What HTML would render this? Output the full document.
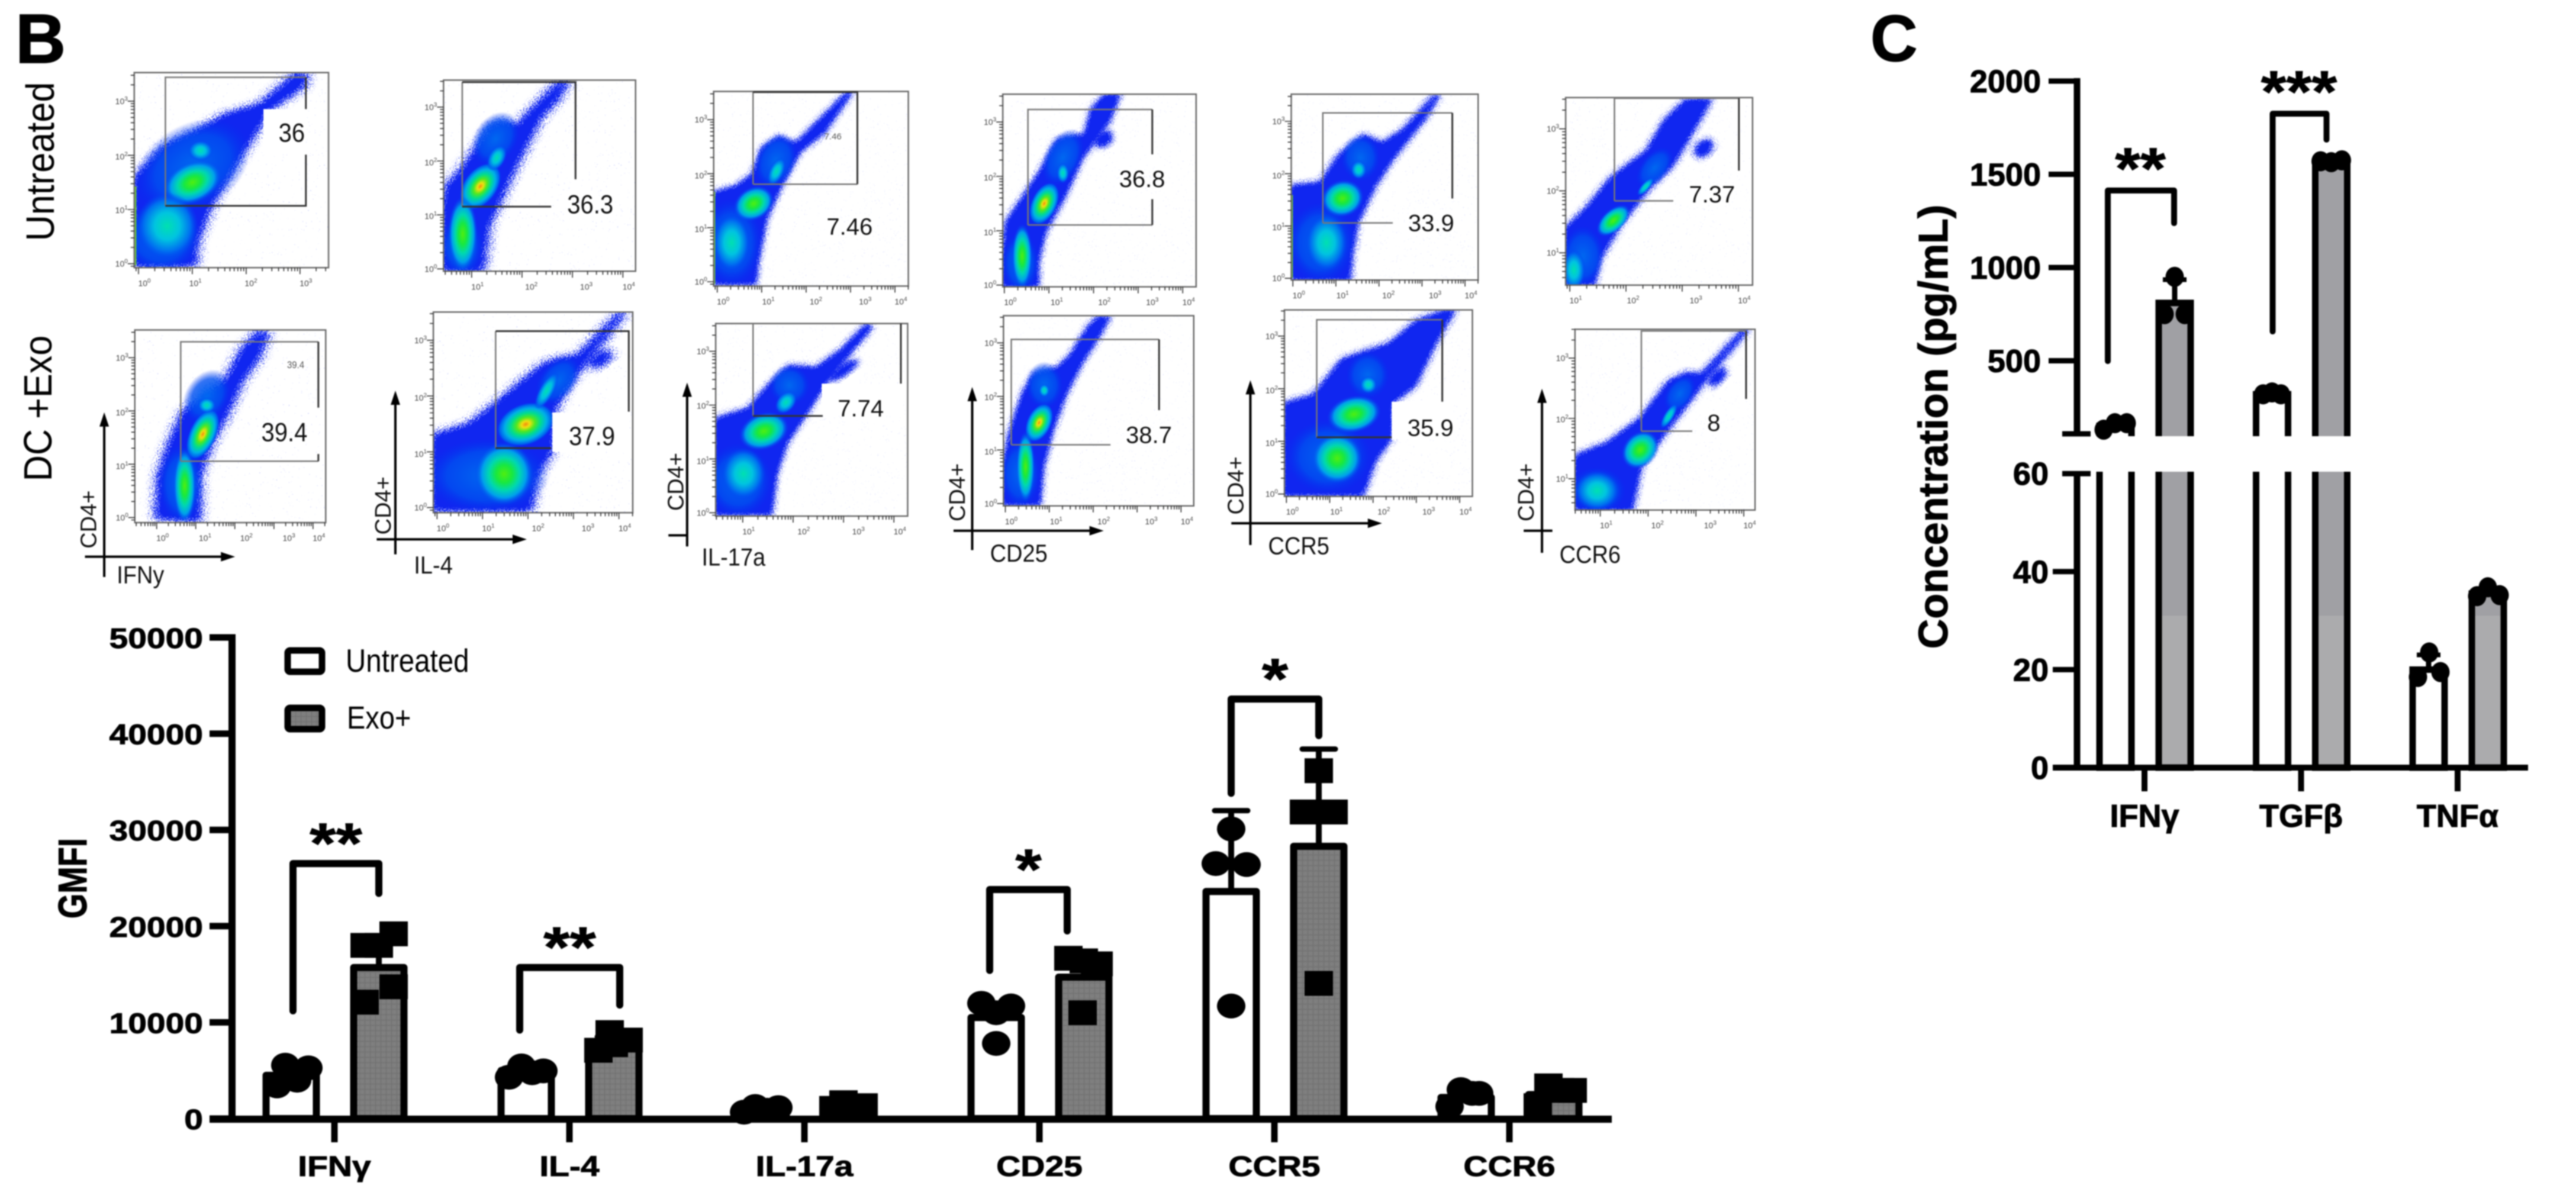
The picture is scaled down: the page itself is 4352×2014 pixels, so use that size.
<!DOCTYPE html>
<html lang="en">
<head>
<meta charset="utf-8">
<title>Flow cytometry and cytokine panels</title>
<style>
html,body{margin:0;padding:0;background:#fff;}
svg{display:block;filter:blur(1.1px);}
text{font-family:"Liberation Sans",sans-serif;}
</style>
</head>
<body>
<svg id="fig" xmlns="http://www.w3.org/2000/svg" width="4352" height="2014" viewBox="0 0 4352 2014">
  <defs>
    <radialGradient id="g-hot"><stop offset="0" stop-color="#f08a10"/><stop offset=".14" stop-color="#f0e010"/><stop offset=".32" stop-color="#50e820"/><stop offset=".52" stop-color="#00dc90"/><stop offset=".72" stop-color="#00b0e8"/><stop offset=".9" stop-color="#0060f0"/><stop offset="1" stop-color="#0030f0" stop-opacity="0"/></radialGradient>
    <radialGradient id="g-grn"><stop offset="0" stop-color="#50ee10"/><stop offset=".28" stop-color="#18e840"/><stop offset=".52" stop-color="#00d8b0"/><stop offset=".75" stop-color="#00a0ec"/><stop offset="1" stop-color="#0040f0" stop-opacity="0"/></radialGradient>
    <radialGradient id="g-cyn"><stop offset="0" stop-color="#00e0b0"/><stop offset=".4" stop-color="#00c4e0"/><stop offset=".75" stop-color="#0070f0"/><stop offset="1" stop-color="#0040f0" stop-opacity="0"/></radialGradient>
    <radialGradient id="g-blu"><stop offset="0" stop-color="#0068f0"/><stop offset=".65" stop-color="#0050f0" stop-opacity=".8"/><stop offset="1" stop-color="#0030f0" stop-opacity="0"/></radialGradient>
    <pattern id="bar-weave" patternUnits="userSpaceOnUse" width="9" height="9"><rect width="9" height="9" fill="#7f7f7f"/><path d="M0 4.5H9M4.5 0V9" stroke="#747474" stroke-width="2"/></pattern>
    <filter id="grain" x="-25%" y="-25%" width="150%" height="150%" color-interpolation-filters="sRGB">
      <feGaussianBlur in="SourceAlpha" stdDeviation="9" result="b"/>
      <feTurbulence type="fractalNoise" baseFrequency=".5" numOctaves="2" seed="4" result="t"/>
      <feColorMatrix in="t" type="matrix" values="0 0 0 0 0  0 0 0 0 0  0 0 0 0 0  0 0 0 3 -1" result="n"/>
      <feComposite in="b" in2="n" operator="arithmetic" k1="0" k2="1.2" k3="1" k4="-1" result="a"/>
      <feComponentTransfer in="a" result="th"><feFuncA type="linear" slope="10"/></feComponentTransfer>
      <feFlood flood-color="#1026f0"/>
      <feComposite in2="th" operator="in"/>
    </filter>
    <filter id="sparse" x="0" y="0" width="100%" height="100%">
      <feTurbulence type="fractalNoise" baseFrequency=".5" numOctaves="1" seed="21" result="n"/>
      <feColorMatrix in="n" type="matrix" values="0 0 0 0 .2  0 0 0 0 .25  0 0 0 0 .95  0 0 0 60 -45"/>
    </filter>
  </defs>
  <rect width="4352" height="2014" fill="#fff"/>
  <text x="26" y="106" font-size="118" font-weight="700" stroke="#000" stroke-width="1.5">B</text>
  <text x="3160" y="103" font-size="110" font-weight="700" stroke="#000" stroke-width="1.5">C</text>
  <text text-anchor="middle" font-size="60" transform="translate(91,273) rotate(-90) scale(1.02,1.12)">Untreated</text>
  <text text-anchor="middle" font-size="60" transform="translate(87,690) rotate(-90) scale(1.02,1.12)">DC +Exo</text>
  <g id="flow"></g>
  <g id="chartB"></g>
  <g id="chartC"></g>
</svg>
<script>
/* ---------- GMFI chart data ---------- */
const gmfiCategories = ['IFNγ','IL-4','IL-17a','CD25','CCR5','CCR6'];
const gmfiTicks = [0,10000,20000,30000,40000,50000];
const gmfiUntreatedMeans = [4500,5000,1000,10500,23600,2200];
const gmfiExoMeans = [15700,7500,1300,14700,28300,2500];
const gmfiUntreatedErrTop = [5500,5400,1300,11900,32000,2900];
const gmfiExoErrTop = [19000,8500,1700,16800,38400,3300];
const gmfiUntreatedPoints = [
  [3400,5550,3990,5270],[4300,5470,4770,4960],[670,1260,870,1140],
  [11980,11710,11000,7810],[30100,26500,26400,11700],[1260,3010,2620,2620]];
const gmfiExoPoints = [
  [18000,18000,19200,13700,12100],[7100,8940,8160,7680],[1060,1650,1340,1200],
  [16660,16390,16080,11000],[36150,31860,31860,14050],[1340,3400,2930,2930]];
const gmfiSigLabels = ['**','**','*','*'];
const gmfiSigCategory = [0,1,3,4];
const gmfiSigTop = [26500,15700,23800,43600];
const gmfiSigLeftEnd = [11200,9200,15400,33800];
const gmfiSigRightEnd = [23400,11800,19500,39800];
const legendLabels = ['Untreated','Exo+'];

/* ---------- Concentration chart data ---------- */
const cytoCategories = ['IFNγ','TGFβ','TNFα'];
const cytoUpperTicks = [500,1000,1500,2000];
const cytoLowerTicks = [0,20,40,60];
const cytoUntreatedMeans = [150,320,20];
const cytoExoMeans = [810,1570,35.5];
const cytoUntreatedErrTop = [165,335,23];
const cytoExoErrTop = [935,1580,36.5];
const cytoUntreatedPoints = [[130,165,165],[320,330,320],[18.5,19.5,23.5]];
const cytoExoPoints = [[750,750,950],[1570,1565,1575],[35,36.8,35.2]];
const cytoSigLabels = ['**','***'];
const cytoSigCategory = [0,1];
const cytoSigTop = [1413,1825];
const cytoSigLeftEnd = [498,657];
const cytoSigRightEnd = [1238,1686];

/* ---------- swarm layout, separate from values (px from bar centre) ---------- */
const swarmB0 = [[-24,-10,10,29],[-29,-8,10,29],[-29,-10,10,29],[-25,25,0,0],[0,-26,26,0],[-28,-9,22,10]];
const swarmB1 = [[-24,0,25,25,-24],[-26,-7,25,0],[-26,-9,25,5],[-26,0,25,-2],[0,-25,25,0],[-27,-9,32,11]];
const swarmC0 = [[-20,-1,19],[-15,0,15],[-18,20,1]];
const swarmC1 = [[-17,17,0],[-18,0,18],[-18,0,20]];

const NS = 'http://www.w3.org/2000/svg';
function make(tag, attrs, name, parent){
  const el = document.createElementNS(NS, tag);
  for (const k in attrs) el.setAttribute(k, attrs[k]);
  
  
  parent.appendChild(el);
  return el;
}
function label(parent, name, x, y, str, size, opt){
  opt = opt || {};
  const attrs = {'font-size': size, 'text-anchor': opt.anchor || 'middle', 'font-weight': opt.weight || 400, fill: opt.fill || '#000'};
  if (opt.weight === 700) { attrs.stroke = '#000'; attrs['stroke-width'] = 1.1; }
  attrs.transform = 'translate(' + x + ',' + y + ')' + (opt.rot ? ' rotate(' + opt.rot + ')' : '') + (opt.sx || opt.sy ? ' scale(' + (opt.sx || 1) + ',' + (opt.sy || 1) + ')' : '');
  const t = make('text', attrs, name, parent);
  t.textContent = str;
  return t;
}
function slug(s){ return s.toLowerCase().replace('γ','g').replace('β','b').replace('α','a').replace(/[^a-z0-9]+/g,'-'); }
function line(parent, name, x1, y1, x2, y2, w, cap){
  return make('line', {x1:x1, y1:y1, x2:x2, y2:y2, stroke:'#000', 'stroke-width':w, 'stroke-linecap':cap || 'butt'}, name, parent);
}

/* ---------- chart B ---------- */
(function(){
  const root = document.getElementById('chartB');
  const yB = v => 1890 - v * 0.01626;
  const xB = i => 565 + 397 * i;
  const dx0 = -73, dx1 = 75;
  gmfiCategories.forEach((cat, i) => {
    const s = slug(cat);
    [[gmfiUntreatedMeans, dx0, 'untreated', 'none'], [gmfiExoMeans, dx1, 'exo', 'url(#bar-weave)']].forEach(row => {
      const cx = xB(i) + row[1], top = yB(row[0][i]);
      make('rect', {x: cx - 42.5, y: top, width: 85, height: 1890 - top, fill: row[3] === 'none' ? '#fff' : row[3], stroke: '#000', 'stroke-width': 12, 'stroke-linejoin': 'round'}, 'bar-' + s + '-' + row[2], root);
    });
    const er = [[gmfiUntreatedMeans, gmfiUntreatedErrTop, dx0, 'untreated'], [gmfiExoMeans, gmfiExoErrTop, dx1, 'exo']];
    er.forEach(row => {
      const cx = xB(i) + row[2];
      line(root, 'error-bar-' + s + '-' + row[3], cx, yB(row[0][i]), cx, yB(row[1][i]), 10);
      line(root, 'error-cap-' + s + '-' + row[3], cx - 28, yB(row[1][i]), cx + 28, yB(row[1][i]), 9, 'round');
    });
    gmfiUntreatedPoints[i].forEach((v, k) => {
      make('ellipse', {cx: xB(i) + dx0 + swarmB0[i][k], cy: yB(v), rx: 24, ry: 21, fill: '#000'}, 'point-' + s + '-untreated', root);
    });
    gmfiExoPoints[i].forEach((v, k) => {
      make('rect', {x: xB(i) + dx1 + swarmB1[i][k] - 24, y: yB(v) - 21, width: 48, height: 42, fill: '#000'}, 'point-' + s + '-exo', root);
    });
  });
  /* axes */
  line(root, 'y-axis', 392, yB(50000) - 5.5, 392, 1896, 12);
  line(root, 'x-axis', 354, 1891, 2723, 1891, 12);
  gmfiTicks.forEach(t => {
    line(root, 'y-tick-' + t, 354, yB(t), 392, yB(t), 11);
    label(root, 'y-tick-label-' + t, 343, yB(t) + 18, String(t), 57, {anchor: 'end', weight: 700, sy: .85});
  });
  gmfiCategories.forEach((cat, i) => {
    line(root, 'x-tick-' + slug(cat), xB(i), 1891, xB(i), 1930, 11);
    label(root, 'x-tick-label-' + slug(cat), xB(i), 1987, cat, 57, {weight: 700, sy: .85});
  });
  label(root, 'y-axis-title', 146, 1484, 'GMFI', 68, {weight: 700, rot: -90, sx: .8});
  /* significance brackets */
  const leftShift = [3,-11,-11,0], rightShift = [0,10,-28,0];
  gmfiSigLabels.forEach((s, k) => {
    const i = gmfiSigCategory[k];
    const xl = xB(i) + dx0 + leftShift[k], xr = xB(i) + dx1 + rightShift[k];
    make('path', {d: 'M' + xl + ' ' + yB(gmfiSigLeftEnd[k]) + 'V' + yB(gmfiSigTop[k]) + 'H' + xr + 'V' + yB(gmfiSigRightEnd[k]), fill: 'none', stroke: '#000', 'stroke-width': 12, 'stroke-linecap': 'round', 'stroke-linejoin': 'round'}, 'significance-bracket-' + slug(gmfiCategories[i]), root);
    label(root, 'significance-stars-' + slug(gmfiCategories[i]), (xl + xr) / 2, yB(gmfiSigTop[k]) - 1, s, 114, {weight: 700, sy: .85});
  });
  /* legend */
  const lg = make('g', {}, 'legend', root);
  make('rect', {x: 486, y: 1099, width: 58, height: 36, rx: 4, fill: '#fff', stroke: '#000', 'stroke-width': 11}, 'legend-swatch-untreated', lg);
  make('rect', {x: 486, y: 1196, width: 58, height: 36, rx: 4, fill: 'url(#bar-weave)', stroke: '#000', 'stroke-width': 11}, 'legend-swatch-exo', lg);
  label(lg, 'legend-label-untreated', 584, 1135, legendLabels[0], 47.5, {anchor: 'start', sy: 1.15});
  label(lg, 'legend-label-exo', 586, 1231, legendLabels[1], 47, {anchor: 'start', sy: 1.15});
})();

/* ---------- chart C ---------- */
(function(){
  const root = document.getElementById('chartC');
  const yC = v => v > 60 ? 137 + (2000 - v) * 0.315 : 1297 - v * 8.28;
  const xC = i => 3623 + 264.5 * i;
  const dx0 = -49, dx1 = 51;
  cytoCategories.forEach((cat, i) => {
    const s = slug(cat);
    [[cytoUntreatedMeans, dx0, 'untreated', '#fff'], [cytoExoMeans, dx1, 'exo', '#a0a0a4']].forEach(row => {
      const cx = xC(i) + row[1], top = yC(row[0][i]);
      make('rect', {x: cx - 27, y: top, width: 54, height: 1297 - top, fill: row[3], stroke: '#000', 'stroke-width': 11}, 'bar-' + s + '-' + row[2], root);
      if (row[2] === 'exo') make('rect', {x: cx - 21.5, y: Math.max(yC(31), top + 6), width: 43, height: 1291 - Math.max(yC(31), top + 6), fill: '#ababad'}, 'bar-lower-shade-' + s, root);
    });
  });
  make('rect', {x: 3440, y: 737, width: 830, height: 60, fill: '#fff'}, 'axis-break-gap', root);
  cytoCategories.forEach((cat, i) => {
    const s = slug(cat);
    [[cytoUntreatedMeans, cytoUntreatedErrTop, dx0, 'untreated'], [cytoExoMeans, cytoExoErrTop, dx1, 'exo']].forEach(row => {
      const cx = xC(i) + row[2];
      line(root, 'error-bar-' + s + '-' + row[3], cx, yC(row[0][i]), cx, yC(row[1][i]), 9);
      line(root, 'error-cap-' + s + '-' + row[3], cx - 20, yC(row[1][i]), cx + 20, yC(row[1][i]), 8);
    });
    cytoUntreatedPoints[i].forEach((v, k) => {
      make('ellipse', {cx: xC(i) + dx0 + swarmC0[i][k], cy: yC(v), rx: 15.5, ry: 17, fill: '#000'}, 'point-' + s + '-untreated', root);
    });
    cytoExoPoints[i].forEach((v, k) => {
      make('ellipse', {cx: xC(i) + dx1 + swarmC1[i][k], cy: yC(v), rx: 15.5, ry: 17, fill: '#000'}, 'point-' + s + '-exo', root);
    });
  });
  /* axes */
  line(root, 'y-axis-upper', 3509, yC(2000) - 5, 3509, 736, 11);
  line(root, 'y-axis-lower', 3509, 797, 3509, 1297, 11);
  line(root, 'x-axis', 3468, 1297, 4271, 1297, 10);
  line(root, 'axis-break-tick-upper', 3484, 733, 3532, 733, 9);
  cytoUpperTicks.forEach(t => {
    line(root, 'y-tick-' + t, 3461, yC(t), 3509, yC(t), 9);
    label(root, 'y-tick-label-' + t, 3448, yC(t) + 19, String(t), 54, {anchor: 'end', weight: 700});
  });
  cytoLowerTicks.forEach(t => {
    line(root, 'y-tick-' + t, t === 60 ? 3484 : 3468, yC(t), t === 60 ? 3532 : 3509, yC(t), 9);
    label(root, 'y-tick-label-' + t, 3461, yC(t) + 19, String(t), 54, {anchor: 'end', weight: 700});
  });
  cytoCategories.forEach((cat, i) => {
    line(root, 'x-tick-' + slug(cat), xC(i), 1297, xC(i), 1337, 10);
    label(root, 'x-tick-label-' + slug(cat), xC(i), 1397, cat, 54, {weight: 700});
  });
  label(root, 'y-axis-title', 3290, 721, 'Concentration (pg/mL)', 70, {weight: 700, rot: -90});
  const leftShift = [-13,1], rightShift = [-1,-8];
  cytoSigLabels.forEach((s, k) => {
    const i = cytoSigCategory[k];
    const xl = xC(i) + dx0 + leftShift[k], xr = xC(i) + dx1 + rightShift[k];
    make('path', {d: 'M' + xl + ' ' + yC(cytoSigLeftEnd[k]) + 'V' + yC(cytoSigTop[k]) + 'H' + xr + 'V' + yC(cytoSigRightEnd[k]), fill: 'none', stroke: '#000', 'stroke-width': 10, 'stroke-linecap': 'round', 'stroke-linejoin': 'round'}, 'significance-bracket-' + slug(cytoCategories[i]), root);
    label(root, 'significance-stars-' + slug(cytoCategories[i]), (xl + xr) / 2 - 1, yC(cytoSigTop[k]) - 3, s, 110, {weight: 700, sy: .9});
  });
})();

/* ---------- flow cytometry panels ---------- */
const C1 = {sx:.957, sy:.67, ox:0, oy:0};
const C5 = {sx:.574, sy:.574, ox:1150, oy:100};
const C6 = {sx:.606, sy:.574, ox:2050, oy:100};
const GR = {h:'g-hot', g:'g-grn', c:'g-cyn', b:'g-blu'};
const flowPanels = [
 {n:'untreated-ifny', c:C1, f:[237,183,580,675], e:470,
  p:'238,452 290,372 345,335 400,290 460,265 525,185 540,190 535,215 470,280 460,310 410,420 370,520 345,610 342,668 238,668',
  b:[['b',340,420,90,130,30],['b',285,600,70,90,0],['g',340,460,45,62,35],['c',354,380,22,26,0],['c',295,570,55,85,0]],
  w:[[465,275,75,115]], gg:'M292 519V195H540', gd:'M540 195V275M540 390V519H292', t:[['36',515,335,40]],
  xl:[[0,255],[1,345],[2,443],[3,540]], yl:[[0,665],[1,530],[2,395],[3,255]]},
 {n:'untreated-il4', c:C1, f:[783,202,1122,684],
  p:'783,520 790,470 815,430 850,360 870,320 890,310 915,325 925,300 990,205 1000,205 985,245 950,300 915,400 885,490 860,570 850,680 783,680',
  b:[['b',875,350,40,70,15],['b',815,620,38,80,0],['h',848,470,32,62,20],['c',877,398,16,34,15],['g',817,590,26,95,0]],
  w:[], gg:'M816 521V207', gd:'M816 207H1016V452M816 521H973', t:[['36.3',1042,515,40]],
  xl:[[1,843],[2,938],[3,1035],[4,1110]], yl:[[0,678],[1,545],[2,410],[3,270]]},
 {n:'untreated-il17a', c:C5, f:[97,95,670,668], e:390,
  p:'97,395 165,375 213,340 240,265 290,230 330,250 350,240 400,190 495,95 500,100 420,215 350,270 300,360 250,470 225,600 218,660 97,660',
  b:[['b',280,300,60,85,20],['b',150,540,90,130,0],['g',215,425,62,48,-30],['c',282,330,22,44,25],['c',150,540,55,85,0]],
  w:[], gg:'M213 368V97M213 368H520', gd:'M213 97H520V368', t:[['7.46',497,490,40],['7.46',448,226,15]],
  xl:[[0,125],[1,258],[2,398],[3,543],[4,648]], yl:[[0,655],[1,500],[2,342],[3,178]]},
 {n:'untreated-cd25', c:C5, f:[948,103,1517,670],
  p:'948,590 960,480 1000,420 1060,330 1110,240 1150,230 1190,225 1210,150 1250,105 1290,105 1260,180 1180,290 1130,400 1070,510 1050,600 1050,668 948,668',
  isl:[[1245,235,24,14,-35]],
  b:[['b',1125,290,55,90,25],['b',1000,600,55,90,0],['h',1070,425,38,66,25],['c',1125,335,18,30,0],['g',1005,580,30,95,0]],
  w:[], gg:'M1022 488V148H1388M1022 488H1388', gd:'M1388 148V280M1388 412V488', t:[['36.8',1358,350,40]],
  xl:[[0,970],[1,1107],[2,1247],[3,1388],[4,1495]], yl:[[0,665],[1,510],[2,348],[3,185]]},
 {n:'untreated-ccr5', c:C6, f:[217,103,738,650], e:400,
  p:'217,375 300,365 350,285 420,225 470,250 530,210 620,105 625,110 590,170 500,290 450,370 400,480 385,570 378,648 217,648',
  b:[['b',410,290,55,70,0],['b',300,540,95,120,0],['g',360,410,60,54,-25],['c',405,325,22,28,0],['c',315,540,58,85,0]],
  w:[], gg:'M305 482V158H666M305 482H500', gd:'M666 158V410', t:[['33.9',607,480,40]],
  xl:[[0,238],[1,360],[2,488],[3,618],[4,718]], yl:[[0,645],[1,495],[2,342],[3,183]]},
 {n:'untreated-ccr6', c:C6, f:[982,113,1503,665],
  p:'982,500 1040,440 1110,350 1210,270 1260,180 1320,120 1385,120 1330,220 1280,310 1220,370 1130,490 1075,590 1060,662 982,662',
  isl:[[1367,262,26,14,-45]],
  b:[['b',1230,320,40,70,35],['b',1030,580,60,90,0],['g',1115,475,58,32,-45],['c',1205,375,12,34,40],['c',1005,620,32,60,0]],
  w:[], gg:'M1118 417V115H1465M1118 417H1282', gd:'M1465 115V328', t:[['7.37',1390,395,40]],
  xl:[[1,1010],[2,1170],[3,1345],[4,1480]], yl:[[1,570],[2,388],[3,205]]},
 {n:'exo-ifny', c:C1, f:[238,832,575,1318],
  p:'278,1305 282,1200 300,1120 325,1040 365,1000 400,960 430,880 460,835 470,840 455,900 425,960 400,1040 370,1120 350,1200 350,1310',
  b:[['b',365,1000,40,70,15],['b',320,1220,40,100,0],['h',358,1095,25,66,15],['c',365,1022,16,20,0],['g',326,1225,20,95,0]],
  w:[], gg:'M319 1163V862H562M319 1163H562', gd:'M562 862V1028M562 1145V1163', t:[['39.4',502,1090,40],['39.4',522,920,15]],
  xl:[[0,287],[1,362],[2,435],[3,510],[4,563]], yl:[[0,1305],[1,1175],[2,1040],[3,902]],
  a:{c:C1, v:[184,1455,1040], h:[1404,150,415], cd4:[155,1310], name:['IFNy',248,1450], head:1}},
 {n:'exo-il4', c:C1, f:[765,787,1117,1293],
  p:'765,1100 830,1070 875,1020 960,920 990,905 1020,900 1095,790 1100,790 1040,900 1000,970 975,1040 975,1130 945,1200 935,1285 765,1285',
  isl:[[1060,905,22,8,-50]],
  b:[['b',985,960,35,65,20],['b',860,1200,110,95,0],['h',928,1070,46,60,35],['c',965,985,14,50,20],['g',890,1195,52,80,0]],
  w:[[975,1040,135,100]], gg:'M875 1130V835', gd:'M875 835H1110V1038M875 1130H973', t:[['37.9',1045,1100,40]],
  xl:[[0,782],[1,862],[2,950],[3,1038],[4,1103]], yl:[[0,1280],[1,1145],[2,1003],[3,858]],
  a:{c:C1, v:[698,1398,985], h:[1360,665,930], cd4:[675,1275], name:['IL-4',765,1425], head:1}},
 {n:'exo-il17a', c:C5, f:[103,778,668,1345],
  p:'103,1060 200,1030 260,960 320,905 400,910 470,860 550,780 560,790 500,860 420,960 370,1040 310,1130 280,1220 265,1338 103,1338',
  isl:[[480,915,45,8,-35]],
  b:[['b',320,960,60,60,0],['b',170,1240,100,110,0],['g',245,1095,75,54,-20],['c',310,1010,27,38,40],['c',185,1220,65,76,0]],
  w:[[415,955,235,95]], gg:'M213 1050V778', gd:'M213 1050H418M648 778V955', t:[['7.74',530,1025,40]],
  xl:[[1,200],[2,362],[3,523],[4,645]], yl:[[0,1335],[1,1183],[2,1020],[3,860]],
  a:{c:C1, v:[1213,1378,965], h:[1350,1180,1213], cd4:[1192,1215], name:['IL-17a',1295,1405], head:0}},
 {n:'exo-cd25', c:C5, f:[950,755,1510,1315],
  p:'950,1200 970,1100 1010,980 1040,930 1110,910 1150,870 1200,790 1230,760 1260,760 1220,830 1180,890 1130,990 1090,1100 1065,1200 1055,1310 950,1310',
  b:[['b',1070,960,55,70,0],['b',1000,1220,60,100,0],['h',1055,1070,36,60,25],['c',1070,975,16,20,0],['g',1015,1200,27,105,0]],
  w:[], gg:'M973 1135V825H1408M973 1135H1265', gd:'M1408 825V1033', t:[['38.7',1378,1103,40]],
  xl:[[0,973],[1,1105],[2,1245],[3,1385],[4,1490]], yl:[[0,1308],[1,1155],[2,995],[3,835]],
  a:{c:C5, v:[858,1445,965], h:[1388,803,1245], cd4:[812,1275], name:['CD25',995,1455], head:1}},
 {n:'exo-ccr5', c:C6, f:[198,738,722,1287],
  p:'198,1015 280,990 360,885 430,860 490,840 570,770 650,740 670,740 620,830 560,960 497,1010 497,1110 450,1180 415,1282 198,1282',
  b:[['b',430,930,60,70,0],['b',320,1170,120,110,0],['g',392,1045,76,54,-15],['c',432,958,24,26,0],['g',345,1175,70,74,0]],
  w:[[497,1008,173,112]], gg:'M288 1113V767H638', gd:'M288 1113H497M638 767V1008', t:[['35.9',605,1082,40]],
  xl:[[0,220],[1,343],[2,475],[3,600],[4,703]], yl:[[0,1280],[1,1130],[2,975],[3,815]],
  a:{c:C6, v:[103,1430,945], h:[1366,50,470], cd4:[60,1255], name:['CCR5',238,1433], head:1}},
 {n:'exo-ccr6', c:C6, f:[1008,795,1510,1327],
  p:'1008,1170 1100,1130 1190,1060 1270,950 1320,925 1360,930 1480,795 1485,800 1380,930 1330,1000 1250,1110 1190,1200 1165,1325 1008,1325',
  isl:[[1405,935,28,10,-50]],
  b:[['b',1300,985,38,60,30],['b',1070,1270,80,70,0],['g',1190,1150,48,60,35],['c',1270,1050,14,42,30],['c',1070,1270,62,58,0]],
  w:[], gg:'M1193 1095V800H1485M1193 1095H1335', gd:'M1485 800V1000', t:[['8',1395,1068,40]],
  xl:[[1,1095],[2,1238],[3,1385],[4,1495]], yl:[[1,1235],[2,1060],[3,880]],
  a:{c:C6, v:[916,1453,970], h:[1388,865,945], cd4:[870,1275], name:['CCR6',1050,1458], head:0}}
];
(function(){
  const host = document.getElementById('flow');
  const X = (c, x) => c.ox + c.sx * x;
  const Y = (c, y) => c.oy + c.sy * y;
  flowPanels.forEach(pn => {
    const c = pn.c, f = pn.f;
    const g = make('g', {}, 'flow-plot-' + pn.n, host);
    const inner = make('g', {transform: 'translate(' + c.ox + ' ' + c.oy + ') scale(' + c.sx + ' ' + c.sy + ')'}, 'density-layer', g);
    const clip = make('clipPath', {id: 'clip-' + pn.n}, 'plot-clip', inner);
    make('rect', {x: f[0], y: f[1], width: f[2] - f[0], height: f[3] - f[1]}, 'plot-clip-rect', clip);
    const d = make('g', {'clip-path': 'url(#clip-' + pn.n + ')'}, 'density-cloud', inner);
    make('rect', {x: f[0], y: f[1], width: f[2] - f[0], height: f[3] - f[1], fill: '#2030f0', filter: 'url(#sparse)'}, 'scattered-events', d);
    make('polygon', {points: pn.p, fill: '#1026f0', stroke: '#1026f0', 'stroke-width': 12, 'stroke-linejoin': 'round', filter: 'url(#grain)'}, 'event-cloud', d);
    (pn.isl || []).forEach(e => {
      make('ellipse', {cx: e[0], cy: e[1], rx: e[2] + 6, ry: e[3] + 8, transform: 'rotate(' + e[4] + ' ' + e[0] + ' ' + e[1] + ')', fill: '#1530f0', filter: 'url(#grain)'}, 'event-island', d);
    });
    pn.b.forEach(e => {
      make('ellipse', {cx: e[1], cy: e[2], rx: e[3], ry: e[4], transform: 'rotate(' + e[5] + ' ' + e[1] + ' ' + e[2] + ')', fill: 'url(#' + GR[e[0]] + ')'}, 'population-' + e[0], d);
    });
    pn.w.forEach(r => {
      make('rect', {x: r[0], y: r[1], width: r[2], height: r[3], fill: '#fff'}, 'gate-label-mask', d);
    });
    if (pn.e) make('line', {x1: f[0] + 2, y1: pn.e, x2: f[0] + 2, y2: f[3] - 6, stroke: '#70d030', 'stroke-width': 3, 'vector-effect': 'non-scaling-stroke'}, 'axis-pile-up-edge', d);
    make('rect', {x: f[0], y: f[1], width: f[2] - f[0], height: f[3] - f[1], fill: 'none', stroke: '#6a6a6a', 'stroke-width': 2.5, 'vector-effect': 'non-scaling-stroke'}, 'plot-frame', inner);
    make('path', {d: pn.gg, fill: 'none', stroke: '#777', 'stroke-width': 2.5, 'vector-effect': 'non-scaling-stroke'}, 'gate-thin', inner);
    make('path', {d: pn.gd, fill: 'none', stroke: '#333', 'stroke-width': 3, 'vector-effect': 'non-scaling-stroke'}, 'gate-dark', inner);
    pn.t.forEach(t => {
      label(g, 'gate-percent-' + t[0], X(c, t[1]), Y(c, t[2]) + t[3] * .38, t[0], t[3], {fill: t[3] < 20 ? '#555' : '#111', sy: c === C1 ? 1.12 : 1});
    });
    /* log ticks */
    const L = X(c, f[0]), R = X(c, f[2]), T = Y(c, f[1]), B = Y(c, f[3]);
    let tp = '';
    const xd = pn.xl.map(a => X(c, a[1]) - 10);
    const yd = pn.yl.map(a => Y(c, a[1]));
    const logs = [0, .301, .477, .602, .699, .778, .845, .903, .954];
    const stepX = (xd[xd.length - 1] - xd[0]) / (xd.length - 1);
    const stepY = (yd[yd.length - 1] - yd[0]) / (yd.length - 1);
    for (let i = -1; i <= xd.length; i++) logs.forEach((lg, j) => {
      const x = xd[0] + stepX * (i + lg);
      if (x >= L && x <= R) tp += 'M' + x.toFixed(1) + ' ' + B + 'v' + (j ? 6 : 11);
    });
    for (let i = -1; i <= yd.length; i++) logs.forEach((lg, j) => {
      const y = yd[0] + stepY * (i + lg);
      if (y >= T && y <= B) tp += 'M' + L + ' ' + y.toFixed(1) + 'h-' + (j ? 6 : 11);
    });
    make('path', {d: tp, fill: 'none', stroke: '#333', 'stroke-width': 1.6}, 'log-ticks', g);
    pn.xl.forEach(a => tickText(g, 'x-tick-label', X(c, a[1]), B + 31, a[0], 'middle'));
    pn.yl.forEach(a => tickText(g, 'y-tick-label', L - 11, Y(c, a[1]) + 5, a[0], 'end'));
    /* arrow axes */
    if (pn.a) {
      const a = pn.a, ac = a.c;
      const vx = X(ac, a.v[0]), vb = Y(ac, a.v[1]), vt = Y(ac, a.v[2]);
      line(g, 'cd4-axis-arrow', vx, vb, vx, vt + 10, 4);
      make('polygon', {points: (vx - 8) + ',' + (vt + 24) + ' ' + vx + ',' + vt + ' ' + (vx + 8) + ',' + (vt + 24), fill: '#000'}, 'cd4-arrow-head', g);
      const hy = Y(ac, a.h[0]), hl = X(ac, a.h[1]), hr = X(ac, a.h[2]);
      line(g, 'marker-axis-arrow', hl, hy, hr - (a.head ? 10 : 0), hy, 4);
      if (a.head) make('polygon', {points: (hr - 24) + ',' + (hy - 8) + ' ' + hr + ',' + hy + ' ' + (hr - 24) + ',' + (hy + 8), fill: '#000'}, 'marker-arrow-head', g);
      label(g, 'cd4-axis-label', X(ac, a.cd4[0]) + 14, Y(ac, a.cd4[1]), 'CD4+', 38, {rot: -90, fill: '#111'});
      label(g, 'marker-axis-label', X(ac, a.name[1]), Y(ac, a.name[2]) + 14, a.name[0], 38, {fill: '#111', sy: 1.1});
    }
  });
  function tickText(parent, name, x, y, exp, anchor){
    const t = make('text', {x: x, y: y, 'font-size': 14, fill: '#444', 'text-anchor': anchor}, name, parent);
    t.textContent = '10';
    const s = make('tspan', {dy: -6, 'font-size': 10}, name + '-exponent', t);
    s.textContent = String(exp);
  }
})();
</script>
</body>
</html>
